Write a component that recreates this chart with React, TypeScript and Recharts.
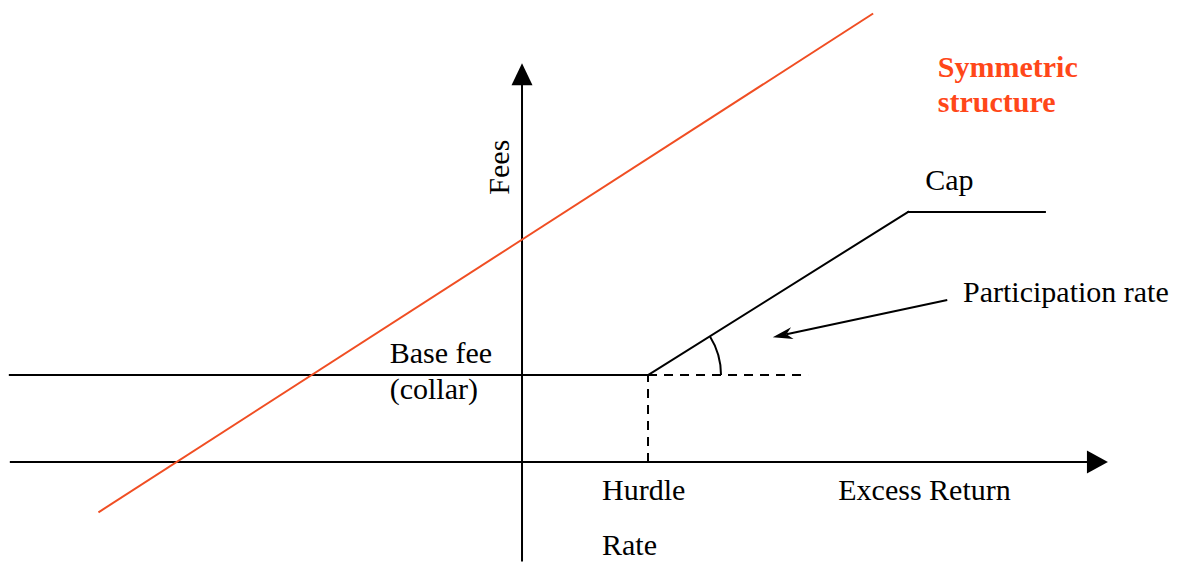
import React from "react";
import {
  ComposedChart,
  XAxis,
  YAxis,
  ReferenceLine,
  ReferenceDot,
} from "recharts";

// fee curve: base fee (collar) until the hurdle, participation slope, then cap
const feeCurve = [
  { x: -8.13, y: 1.38 },
  { x: 2, y: 1.38 },
  { x: 6.13, y: 3.97 },
  { x: 8.3, y: 3.97 },
];

// symmetric structure (fulcrum fee)
const symmetricLine = [
  { x: -6.71, y: -0.79 },
  { x: 5.56, y: 7.11 },
];

const HURDLE = 2;
const BASE_FEE = 1.38;
const DASH_END = 4.54;

const X_DOMAIN: [number, number] = [-8.286, 10.476];
const Y_DOMAIN: [number, number] = [-1.587, 7.333];

const FONT = "'Liberation Serif', 'Times New Roman', serif";
const RED_LINE = "#f04e23";
const RED_TEXT = "#ff4719";

const toSegments = (pts: { x: number; y: number }[]) =>
  pts.slice(1).map((p, i) => [pts[i], p]);

const Label = ({ text, bold, color, rotate }: any) => (props: any) => {
  const { cx, cy } = props;
  return (
    <text
      x={cx}
      y={cy}
      fontFamily={FONT}
      fontSize={30}
      fontWeight={bold ? "bold" : "normal"}
      fill={color || "#000"}
      textAnchor={rotate ? "middle" : "start"}
      transform={rotate ? `rotate(-90 ${cx} ${cy})` : undefined}
    >
      {text}
    </text>
  );
};

const UpArrow = (props: any) => {
  const { cx, cy } = props;
  return (
    <polygon
      points={`${cx},${cy} ${cx - 10.5},${cy + 22} ${cx + 10.5},${cy + 22}`}
      fill="#000"
    />
  );
};

const RightArrow = (props: any) => {
  const { cx, cy } = props;
  return (
    <polygon
      points={`${cx},${cy} ${cx - 21},${cy - 11.5} ${cx - 21},${cy + 11.5}`}
      fill="#000"
    />
  );
};

const PointerArrow = (props: any) => {
  const { x1, y1, x2, y2 } = props;
  const a = Math.atan2(y2 - y1, x2 - x1);
  const len = 20;
  const w = 6;
  const bx = x2 - len * Math.cos(a);
  const by = y2 - len * Math.sin(a);
  const nx = -Math.sin(a);
  const ny = Math.cos(a);
  const kx = x2 - 14 * Math.cos(a);
  const ky = y2 - 14 * Math.sin(a);
  return (
    <g>
      <line x1={x1} y1={y1} x2={kx} y2={ky} stroke="#000" strokeWidth={2} />
      <polygon
        points={`${x2},${y2} ${bx + nx * w},${by + ny * w} ${kx},${ky} ${bx - nx * w},${by - ny * w}`}
        fill="#000"
      />
    </g>
  );
};

const AngleArc = (props: any) => {
  const { x1, y1, x2, y2 } = props;
  const r = 73;
  const a = Math.atan2(y2 - y1, x2 - x1);
  const ex = x1 + r * Math.cos(a);
  const ey = y1 + r * Math.sin(a);
  return (
    <path
      d={`M ${x1 + r} ${y1} A ${r} ${r} 0 0 0 ${ex} ${ey}`}
      fill="none"
      stroke="#000"
      strokeWidth={2}
    />
  );
};

const PlainLine = (color: string) => (props: any) => {
  const { x1, y1, x2, y2 } = props;
  return (
    <line
      x1={x1}
      y1={y1}
      x2={x2}
      y2={y2}
      stroke={color}
      strokeWidth={2}
      strokeLinecap="square"
    />
  );
};

export default function App() {
  return (
    <div style={{ position: "absolute", left: 0, top: 0, background: "#fff" }}>
      <ComposedChart
        width={1182}
        height={562}
        margin={{ top: 0, right: 0, bottom: 0, left: 0 }}
      >
        <XAxis type="number" dataKey="x" domain={X_DOMAIN} hide allowDataOverflow />
        <YAxis type="number" dataKey="y" domain={Y_DOMAIN} hide allowDataOverflow />

        {/* axes */}
        <ReferenceLine
          segment={[{ x: -8.13, y: 0 }, { x: 9.0, y: 0 }]}
          stroke="#000"
          strokeWidth={2}
        />
        <ReferenceDot x={9.3} y={0} r={0} shape={RightArrow} />
        <ReferenceLine
          segment={[{ x: 0, y: -1.58 }, { x: 0, y: 6.0 }]}
          stroke="#000"
          strokeWidth={2}
        />
        <ReferenceDot x={0} y={6.33} r={0} shape={UpArrow} />

        {/* dashed guides at the hurdle */}
        <ReferenceLine
          segment={[{ x: HURDLE, y: BASE_FEE }, { x: DASH_END, y: BASE_FEE }]}
          stroke="#000"
          strokeWidth={2}
          strokeDasharray="9 7"
        />
        <ReferenceLine
          segment={[{ x: HURDLE, y: 0 }, { x: HURDLE, y: BASE_FEE }]}
          stroke="#000"
          strokeWidth={2}
          strokeDasharray="9 7"
        />

        {/* fee curve */}
        {toSegments(feeCurve).map((seg, i) => (
          <ReferenceLine key={`fee-${i}`} segment={seg} shape={PlainLine("#000")} />
        ))}
        {/* symmetric structure */}
        {toSegments(symmetricLine).map((seg, i) => (
          <ReferenceLine key={`sym-${i}`} segment={seg} shape={PlainLine(RED_LINE)} />
        ))}

        {/* participation angle + pointer */}
        <ReferenceLine segment={[feeCurve[1], feeCurve[2]]} shape={AngleArc} />
        <ReferenceLine
          segment={[{ x: 6.75, y: 2.57 }, { x: 3.98, y: 1.98 }]}
          shape={PointerArrow}
        />

        {/* annotations */}
        <ReferenceDot x={-0.21} y={4.68} r={0} shape={Label({ text: "Fees", rotate: true })} />
        <ReferenceDot x={6.4} y={4.32} r={0} shape={Label({ text: "Cap" })} />
        <ReferenceDot x={7.0} y={2.54} r={0} shape={Label({ text: "Participation rate" })} />
        <ReferenceDot x={6.6} y={6.11} r={0} shape={Label({ text: "Symmetric", bold: true, color: RED_TEXT })} />
        <ReferenceDot x={6.6} y={5.56} r={0} shape={Label({ text: "structure", bold: true, color: RED_TEXT })} />
        <ReferenceDot x={-2.1} y={1.57} r={0} shape={Label({ text: "Base fee" })} />
        <ReferenceDot x={-2.1} y={1.0} r={0} shape={Label({ text: "(collar)" })} />
        <ReferenceDot x={1.27} y={-0.6} r={0} shape={Label({ text: "Hurdle" })} />
        <ReferenceDot x={1.27} y={-1.48} r={0} shape={Label({ text: "Rate" })} />
        <ReferenceDot x={5.02} y={-0.6} r={0} shape={Label({ text: "Excess Return" })} />
      </ComposedChart>
    </div>
  );
}
